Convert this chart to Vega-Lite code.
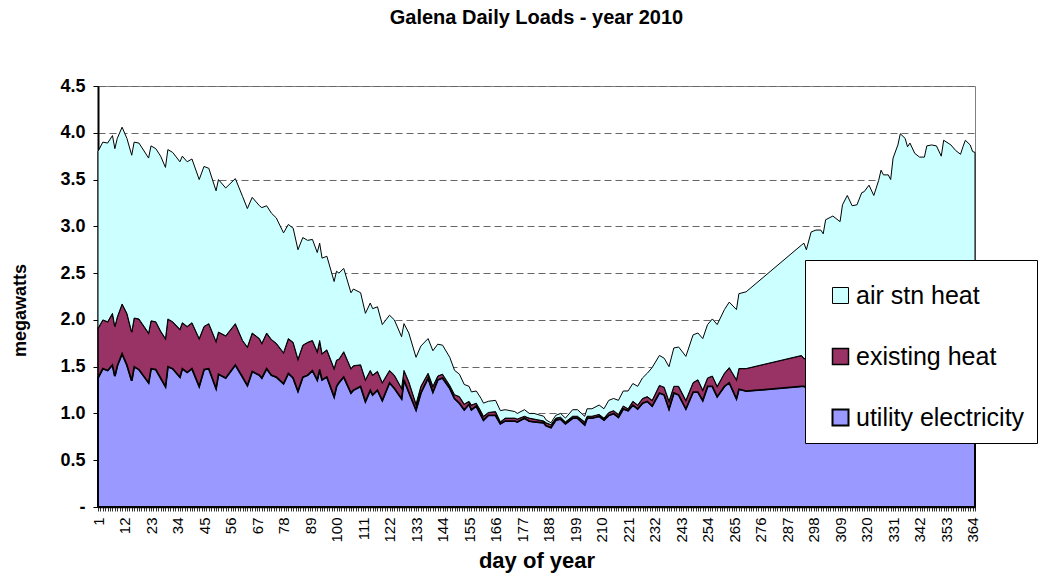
{
  "$schema": "https://vega.github.io/schema/vega-lite/v6.json",
  "width": 877,
  "height": 421,
  "autosize": {"type": "none"},
  "padding": {"left": 98, "top": 86, "right": 66, "bottom": 68},
  "background": "white",
  "config": {
    "font": "Liberation Sans",
    "view": {"stroke": "#808080", "strokeWidth": 1}
  },
  "title": {
    "text": "Galena Daily Loads - year 2010",
    "font": "Liberation Sans",
    "fontSize": 20,
    "fontWeight": "bold",
    "color": "black",
    "anchor": "middle",
    "baseline": "alphabetic",
    "offset": 33
  },
  "data": {
    "values": [
      {"day": 1, "utility electricity": 1.38, "existing heat": 0.53, "air stn heat": 1.89},
      {"day": 3, "utility electricity": 1.48, "existing heat": 0.52, "air stn heat": 1.90},
      {"day": 5, "utility electricity": 1.46, "existing heat": 0.52, "air stn heat": 1.91},
      {"day": 7, "utility electricity": 1.52, "existing heat": 0.55, "air stn heat": 1.90},
      {"day": 8, "utility electricity": 1.40, "existing heat": 0.53, "air stn heat": 1.90},
      {"day": 9, "utility electricity": 1.51, "existing heat": 0.52, "air stn heat": 1.91},
      {"day": 11, "utility electricity": 1.64, "existing heat": 0.53, "air stn heat": 1.89},
      {"day": 13, "utility electricity": 1.52, "existing heat": 0.55, "air stn heat": 1.87},
      {"day": 15, "utility electricity": 1.35, "existing heat": 0.52, "air stn heat": 1.89},
      {"day": 16, "utility electricity": 1.50, "existing heat": 0.52, "air stn heat": 1.88},
      {"day": 18, "utility electricity": 1.47, "existing heat": 0.54, "air stn heat": 1.88},
      {"day": 22, "utility electricity": 1.33, "existing heat": 0.53, "air stn heat": 1.87},
      {"day": 23, "utility electricity": 1.48, "existing heat": 0.51, "air stn heat": 1.87},
      {"day": 25, "utility electricity": 1.47, "existing heat": 0.51, "air stn heat": 1.85},
      {"day": 27, "utility electricity": 1.38, "existing heat": 0.50, "air stn heat": 1.87},
      {"day": 29, "utility electricity": 1.29, "existing heat": 0.51, "air stn heat": 1.83},
      {"day": 30, "utility electricity": 1.50, "existing heat": 0.51, "air stn heat": 1.81},
      {"day": 32, "utility electricity": 1.48, "existing heat": 0.50, "air stn heat": 1.81},
      {"day": 35, "utility electricity": 1.39, "existing heat": 0.51, "air stn heat": 1.79},
      {"day": 36, "utility electricity": 1.48, "existing heat": 0.49, "air stn heat": 1.78},
      {"day": 38, "utility electricity": 1.44, "existing heat": 0.49, "air stn heat": 1.76},
      {"day": 40, "utility electricity": 1.48, "existing heat": 0.49, "air stn heat": 1.75},
      {"day": 43, "utility electricity": 1.29, "existing heat": 0.51, "air stn heat": 1.70},
      {"day": 45, "utility electricity": 1.47, "existing heat": 0.46, "air stn heat": 1.71},
      {"day": 47, "utility electricity": 1.48, "existing heat": 0.48, "air stn heat": 1.66},
      {"day": 50, "utility electricity": 1.27, "existing heat": 0.50, "air stn heat": 1.61},
      {"day": 51, "utility electricity": 1.42, "existing heat": 0.45, "air stn heat": 1.63},
      {"day": 54, "utility electricity": 1.38, "existing heat": 0.45, "air stn heat": 1.58},
      {"day": 58, "utility electricity": 1.52, "existing heat": 0.44, "air stn heat": 1.55},
      {"day": 61, "utility electricity": 1.39, "existing heat": 0.39, "air stn heat": 1.54},
      {"day": 63, "utility electricity": 1.30, "existing heat": 0.41, "air stn heat": 1.48},
      {"day": 65, "utility electricity": 1.45, "existing heat": 0.41, "air stn heat": 1.45},
      {"day": 68, "utility electricity": 1.41, "existing heat": 0.39, "air stn heat": 1.42},
      {"day": 69, "utility electricity": 1.38, "existing heat": 0.37, "air stn heat": 1.45},
      {"day": 71, "utility electricity": 1.48, "existing heat": 0.38, "air stn heat": 1.36},
      {"day": 73, "utility electricity": 1.41, "existing heat": 0.38, "air stn heat": 1.35},
      {"day": 75, "utility electricity": 1.39, "existing heat": 0.36, "air stn heat": 1.34},
      {"day": 78, "utility electricity": 1.32, "existing heat": 0.33, "air stn heat": 1.28},
      {"day": 80, "utility electricity": 1.43, "existing heat": 0.37, "air stn heat": 1.22},
      {"day": 82, "utility electricity": 1.38, "existing heat": 0.38, "air stn heat": 1.22},
      {"day": 84, "utility electricity": 1.24, "existing heat": 0.34, "air stn heat": 1.17},
      {"day": 86, "utility electricity": 1.39, "existing heat": 0.34, "air stn heat": 1.15},
      {"day": 88, "utility electricity": 1.41, "existing heat": 0.35, "air stn heat": 1.09},
      {"day": 90, "utility electricity": 1.46, "existing heat": 0.32, "air stn heat": 1.08},
      {"day": 92, "utility electricity": 1.36, "existing heat": 0.30, "air stn heat": 1.06},
      {"day": 93, "utility electricity": 1.47, "existing heat": 0.31, "air stn heat": 1.04},
      {"day": 94, "utility electricity": 1.36, "existing heat": 0.28, "air stn heat": 1.02},
      {"day": 96, "utility electricity": 1.39, "existing heat": 0.29, "air stn heat": 1.00},
      {"day": 99, "utility electricity": 1.18, "existing heat": 0.30, "air stn heat": 0.93},
      {"day": 100, "utility electricity": 1.29, "existing heat": 0.28, "air stn heat": 0.95},
      {"day": 101, "utility electricity": 1.33, "existing heat": 0.25, "air stn heat": 0.92},
      {"day": 103, "utility electricity": 1.39, "existing heat": 0.27, "air stn heat": 0.89},
      {"day": 106, "utility electricity": 1.22, "existing heat": 0.26, "air stn heat": 0.81},
      {"day": 107, "utility electricity": 1.25, "existing heat": 0.26, "air stn heat": 0.82},
      {"day": 110, "utility electricity": 1.29, "existing heat": 0.23, "air stn heat": 0.77},
      {"day": 112, "utility electricity": 1.13, "existing heat": 0.23, "air stn heat": 0.71},
      {"day": 114, "utility electricity": 1.25, "existing heat": 0.21, "air stn heat": 0.72},
      {"day": 115, "utility electricity": 1.20, "existing heat": 0.21, "air stn heat": 0.71},
      {"day": 117, "utility electricity": 1.25, "existing heat": 0.20, "air stn heat": 0.69},
      {"day": 119, "utility electricity": 1.14, "existing heat": 0.19, "air stn heat": 0.62},
      {"day": 122, "utility electricity": 1.33, "existing heat": 0.13, "air stn heat": 0.59},
      {"day": 124, "utility electricity": 1.27, "existing heat": 0.14, "air stn heat": 0.59},
      {"day": 127, "utility electricity": 1.16, "existing heat": 0.11, "air stn heat": 0.55},
      {"day": 128, "utility electricity": 1.36, "existing heat": 0.10, "air stn heat": 0.50},
      {"day": 130, "utility electricity": 1.23, "existing heat": 0.11, "air stn heat": 0.52},
      {"day": 133, "utility electricity": 1.04, "existing heat": 0.06, "air stn heat": 0.50},
      {"day": 135, "utility electricity": 1.22, "existing heat": 0.07, "air stn heat": 0.43},
      {"day": 138, "utility electricity": 1.38, "existing heat": 0.05, "air stn heat": 0.37},
      {"day": 140, "utility electricity": 1.23, "existing heat": 0.06, "air stn heat": 0.38},
      {"day": 142, "utility electricity": 1.36, "existing heat": 0.04, "air stn heat": 0.34},
      {"day": 144, "utility electricity": 1.38, "existing heat": 0.04, "air stn heat": 0.31},
      {"day": 147, "utility electricity": 1.27, "existing heat": 0.03, "air stn heat": 0.30},
      {"day": 149, "utility electricity": 1.16, "existing heat": 0.04, "air stn heat": 0.26},
      {"day": 151, "utility electricity": 1.11, "existing heat": 0.07, "air stn heat": 0.24},
      {"day": 153, "utility electricity": 1.04, "existing heat": 0.06, "air stn heat": 0.21},
      {"day": 155, "utility electricity": 1.10, "existing heat": 0.03, "air stn heat": 0.16},
      {"day": 156, "utility electricity": 1.04, "existing heat": 0.05, "air stn heat": 0.14},
      {"day": 158, "utility electricity": 1.08, "existing heat": 0.03, "air stn heat": 0.13},
      {"day": 160, "utility electricity": 0.98, "existing heat": 0.04, "air stn heat": 0.14},
      {"day": 161, "utility electricity": 0.93, "existing heat": 0.04, "air stn heat": 0.14},
      {"day": 163, "utility electricity": 0.98, "existing heat": 0.03, "air stn heat": 0.12},
      {"day": 166, "utility electricity": 0.98, "existing heat": 0.04, "air stn heat": 0.12},
      {"day": 168, "utility electricity": 0.89, "existing heat": 0.02, "air stn heat": 0.12},
      {"day": 170, "utility electricity": 0.92, "existing heat": 0.03, "air stn heat": 0.09},
      {"day": 174, "utility electricity": 0.92, "existing heat": 0.03, "air stn heat": 0.07},
      {"day": 175, "utility electricity": 0.91, "existing heat": 0.03, "air stn heat": 0.06},
      {"day": 178, "utility electricity": 0.95, "existing heat": 0.02, "air stn heat": 0.07},
      {"day": 180, "utility electricity": 0.92, "existing heat": 0.03, "air stn heat": 0.05},
      {"day": 182, "utility electricity": 0.91, "existing heat": 0.03, "air stn heat": 0.06},
      {"day": 186, "utility electricity": 0.90, "existing heat": 0.02, "air stn heat": 0.05},
      {"day": 187, "utility electricity": 0.87, "existing heat": 0.03, "air stn heat": 0.03},
      {"day": 189, "utility electricity": 0.85, "existing heat": 0.03, "air stn heat": 0.02},
      {"day": 191, "utility electricity": 0.93, "existing heat": 0.02, "air stn heat": 0.03},
      {"day": 193, "utility electricity": 0.94, "existing heat": 0.02, "air stn heat": 0.04},
      {"day": 195, "utility electricity": 0.89, "existing heat": 0.02, "air stn heat": 0.04},
      {"day": 198, "utility electricity": 0.95, "existing heat": 0.02, "air stn heat": 0.07},
      {"day": 200, "utility electricity": 0.95, "existing heat": 0.02, "air stn heat": 0.07},
      {"day": 203, "utility electricity": 0.88, "existing heat": 0.03, "air stn heat": 0.06},
      {"day": 204, "utility electricity": 0.95, "existing heat": 0.02, "air stn heat": 0.08},
      {"day": 206, "utility electricity": 0.95, "existing heat": 0.02, "air stn heat": 0.08},
      {"day": 209, "utility electricity": 0.97, "existing heat": 0.02, "air stn heat": 0.10},
      {"day": 211, "utility electricity": 0.93, "existing heat": 0.02, "air stn heat": 0.10},
      {"day": 213, "utility electricity": 0.98, "existing heat": 0.03, "air stn heat": 0.13},
      {"day": 215, "utility electricity": 1.00, "existing heat": 0.03, "air stn heat": 0.13},
      {"day": 217, "utility electricity": 0.96, "existing heat": 0.03, "air stn heat": 0.15},
      {"day": 219, "utility electricity": 1.05, "existing heat": 0.03, "air stn heat": 0.16},
      {"day": 221, "utility electricity": 1.03, "existing heat": 0.02, "air stn heat": 0.19},
      {"day": 223, "utility electricity": 1.09, "existing heat": 0.04, "air stn heat": 0.19},
      {"day": 225, "utility electricity": 1.05, "existing heat": 0.04, "air stn heat": 0.20},
      {"day": 227, "utility electricity": 1.11, "existing heat": 0.05, "air stn heat": 0.22},
      {"day": 229, "utility electricity": 1.13, "existing heat": 0.05, "air stn heat": 0.25},
      {"day": 231, "utility electricity": 1.08, "existing heat": 0.06, "air stn heat": 0.35},
      {"day": 234, "utility electricity": 1.22, "existing heat": 0.08, "air stn heat": 0.32},
      {"day": 236, "utility electricity": 1.20, "existing heat": 0.08, "air stn heat": 0.31},
      {"day": 238, "utility electricity": 1.05, "existing heat": 0.08, "air stn heat": 0.37},
      {"day": 240, "utility electricity": 1.22, "existing heat": 0.07, "air stn heat": 0.41},
      {"day": 242, "utility electricity": 1.20, "existing heat": 0.09, "air stn heat": 0.42},
      {"day": 245, "utility electricity": 1.05, "existing heat": 0.09, "air stn heat": 0.47},
      {"day": 248, "utility electricity": 1.23, "existing heat": 0.10, "air stn heat": 0.51},
      {"day": 250, "utility electricity": 1.23, "existing heat": 0.13, "air stn heat": 0.50},
      {"day": 252, "utility electricity": 1.14, "existing heat": 0.11, "air stn heat": 0.55},
      {"day": 254, "utility electricity": 1.29, "existing heat": 0.09, "air stn heat": 0.57},
      {"day": 256, "utility electricity": 1.29, "existing heat": 0.11, "air stn heat": 0.61},
      {"day": 258, "utility electricity": 1.18, "existing heat": 0.11, "air stn heat": 0.66},
      {"day": 261, "utility electricity": 1.29, "existing heat": 0.14, "air stn heat": 0.68},
      {"day": 263, "utility electricity": 1.33, "existing heat": 0.16, "air stn heat": 0.70},
      {"day": 266, "utility electricity": 1.16, "existing heat": 0.20, "air stn heat": 0.75},
      {"day": 267, "utility electricity": 1.26, "existing heat": 0.22, "air stn heat": 0.80},
      {"day": 270, "utility electricity": 1.24, "existing heat": 0.24, "air stn heat": 0.82},
      {"day": 293, "utility electricity": 1.29, "existing heat": 0.33, "air stn heat": 1.18},
      {"day": 294, "utility electricity": 1.29, "existing heat": 0.30, "air stn heat": 1.23},
      {"day": 295, "utility electricity": 1.28, "existing heat": 0.30, "air stn heat": 1.17},
      {"day": 297, "utility electricity": 1.31, "existing heat": 0.33, "air stn heat": 1.30},
      {"day": 299, "utility electricity": 1.31, "existing heat": 0.34, "air stn heat": 1.31},
      {"day": 301, "utility electricity": 1.31, "existing heat": 0.34, "air stn heat": 1.31},
      {"day": 302, "utility electricity": 1.31, "existing heat": 0.33, "air stn heat": 1.28},
      {"day": 303, "utility electricity": 1.33, "existing heat": 0.36, "air stn heat": 1.38},
      {"day": 306, "utility electricity": 1.33, "existing heat": 0.36, "air stn heat": 1.42},
      {"day": 309, "utility electricity": 1.32, "existing heat": 0.35, "air stn heat": 1.38},
      {"day": 310, "utility electricity": 1.35, "existing heat": 0.38, "air stn heat": 1.50},
      {"day": 312, "utility electricity": 1.36, "existing heat": 0.40, "air stn heat": 1.57},
      {"day": 314, "utility electricity": 1.34, "existing heat": 0.38, "air stn heat": 1.50},
      {"day": 316, "utility electricity": 1.35, "existing heat": 0.38, "air stn heat": 1.50},
      {"day": 318, "utility electricity": 1.36, "existing heat": 0.41, "air stn heat": 1.59},
      {"day": 319, "utility electricity": 1.36, "existing heat": 0.41, "air stn heat": 1.60},
      {"day": 321, "utility electricity": 1.37, "existing heat": 0.42, "air stn heat": 1.65},
      {"day": 323, "utility electricity": 1.36, "existing heat": 0.40, "air stn heat": 1.57},
      {"day": 325, "utility electricity": 1.38, "existing heat": 0.43, "air stn heat": 1.68},
      {"day": 326, "utility electricity": 1.39, "existing heat": 0.45, "air stn heat": 1.76},
      {"day": 327, "utility electricity": 1.39, "existing heat": 0.44, "air stn heat": 1.72},
      {"day": 329, "utility electricity": 1.39, "existing heat": 0.44, "air stn heat": 1.72},
      {"day": 330, "utility electricity": 1.38, "existing heat": 0.43, "air stn heat": 1.69},
      {"day": 331, "utility electricity": 1.41, "existing heat": 0.47, "air stn heat": 1.85},
      {"day": 333, "utility electricity": 1.43, "existing heat": 0.49, "air stn heat": 1.95},
      {"day": 334, "utility electricity": 1.44, "existing heat": 0.51, "air stn heat": 2.04},
      {"day": 336, "utility electricity": 1.44, "existing heat": 0.50, "air stn heat": 2.00},
      {"day": 337, "utility electricity": 1.43, "existing heat": 0.49, "air stn heat": 1.93},
      {"day": 338, "utility electricity": 1.43, "existing heat": 0.50, "air stn heat": 1.96},
      {"day": 340, "utility electricity": 1.42, "existing heat": 0.48, "air stn heat": 1.88},
      {"day": 342, "utility electricity": 1.41, "existing heat": 0.47, "air stn heat": 1.86},
      {"day": 344, "utility electricity": 1.41, "existing heat": 0.47, "air stn heat": 1.86},
      {"day": 345, "utility electricity": 1.43, "existing heat": 0.49, "air stn heat": 1.94},
      {"day": 347, "utility electricity": 1.43, "existing heat": 0.49, "air stn heat": 1.95},
      {"day": 349, "utility electricity": 1.43, "existing heat": 0.49, "air stn heat": 1.94},
      {"day": 351, "utility electricity": 1.41, "existing heat": 0.47, "air stn heat": 1.87},
      {"day": 352, "utility electricity": 1.44, "existing heat": 0.50, "air stn heat": 1.98},
      {"day": 355, "utility electricity": 1.43, "existing heat": 0.49, "air stn heat": 1.95},
      {"day": 357, "utility electricity": 1.42, "existing heat": 0.48, "air stn heat": 1.91},
      {"day": 359, "utility electricity": 1.42, "existing heat": 0.47, "air stn heat": 1.88},
      {"day": 360, "utility electricity": 1.43, "existing heat": 0.49, "air stn heat": 1.93},
      {"day": 361, "utility electricity": 1.44, "existing heat": 0.50, "air stn heat": 1.98},
      {"day": 363, "utility electricity": 1.43, "existing heat": 0.49, "air stn heat": 1.95},
      {"day": 364, "utility electricity": 1.42, "existing heat": 0.48, "air stn heat": 1.90},
      {"day": 365, "utility electricity": 1.42, "existing heat": 0.48, "air stn heat": 1.89}
    ]
  },
  "transform": [
    {"fold": ["utility electricity", "existing heat", "air stn heat"], "as": ["series", "mw"]}
  ],
  "mark": {"type": "area", "stroke": "black", "opacity": 1, "interpolate": "linear"},
  "encoding": {
    "x": {
      "field": "day",
      "type": "quantitative",
      "scale": {"domain": [1, 365], "nice": false, "zero": false},
      "axis": {
        "title": "day of year",
        "titleFont": "Liberation Sans",
        "titleFontSize": 22,
        "titleFontWeight": "bold",
        "titleColor": "black",
        "titlePadding": 8,
        "tickCount": 365,
        "format": "d",
        "labelExpr": "(datum.value - 1) % 11 == 0 ? datum.label : ''",
        "labelAngle": -90,
        "labelOverlap": false,
        "labelFlush": false,
        "labelBound": false,
        "labelFont": "Liberation Sans",
        "labelFontSize": 15,
        "labelColor": "black",
        "labelPadding": 6,
        "grid": false,
        "tickSize": 4,
        "tickColor": "#333",
        "domainColor": "black",
        "domainWidth": 1.5,
        "zindex": 1
      }
    },
    "y": {
      "field": "mw",
      "type": "quantitative",
      "stack": "zero",
      "scale": {"domain": [0, 4.5], "nice": false},
      "axis": {
        "title": "megawatts",
        "titleFont": "Liberation Sans",
        "titleFontSize": 18,
        "titleFontWeight": "bold",
        "titleColor": "black",
        "titleAngle": 270,
        "titleBaseline": "middle",
        "titleAlign": "center",
        "titleX": -78,
        "titleY": 224,
        "values": [0, 0.5, 1, 1.5, 2, 2.5, 3, 3.5, 4, 4.5],
        "labelExpr": "datum.value == 0 ? '-' : format(datum.value, '.1f')",
        "labelFont": "Liberation Sans",
        "labelFontSize": 18,
        "labelFontWeight": "bold",
        "labelColor": "black",
        "labelPadding": 8,
        "tickSize": 5,
        "tickColor": "black",
        "domainColor": "black",
        "domainWidth": 2,
        "grid": true,
        "gridColor": "#666",
        "gridDash": [7, 4],
        "gridWidth": 1,
        "zindex": 0
      }
    },
    "color": {
      "field": "series",
      "type": "nominal",
      "scale": {
        "domain": ["air stn heat", "existing heat", "utility electricity"],
        "range": ["#CCFFFF", "#993366", "#9999FF"]
      },
      "legend": {
        "title": " ",
        "titleFontSize": 4,
        "titlePadding": 7,
        "orient": "none",
        "legendX": 707,
        "legendY": 174,
        "padding": 12,
        "fillColor": "white",
        "strokeColor": "black",
        "symbolType": "square",
        "symbolSize": 256,
        "symbolStrokeColor": "black",
        "symbolStrokeWidth": 1,
        "symbolOpacity": 1,
        "symbolOffset": 11,
        "labelFont": "Liberation Sans",
        "labelFontSize": 25,
        "labelColor": "black",
        "labelOffset": 3,
        "rowPadding": 35,
        "labelLimit": 400
      }
    },
    "strokeWidth": {
      "field": "series",
      "type": "nominal",
      "scale": {
        "domain": ["air stn heat", "existing heat", "utility electricity"],
        "range": [1, 2, 2]
      },
      "legend": null
    },
    "order": {"field": "series", "sort": "descending"}
  }
}
